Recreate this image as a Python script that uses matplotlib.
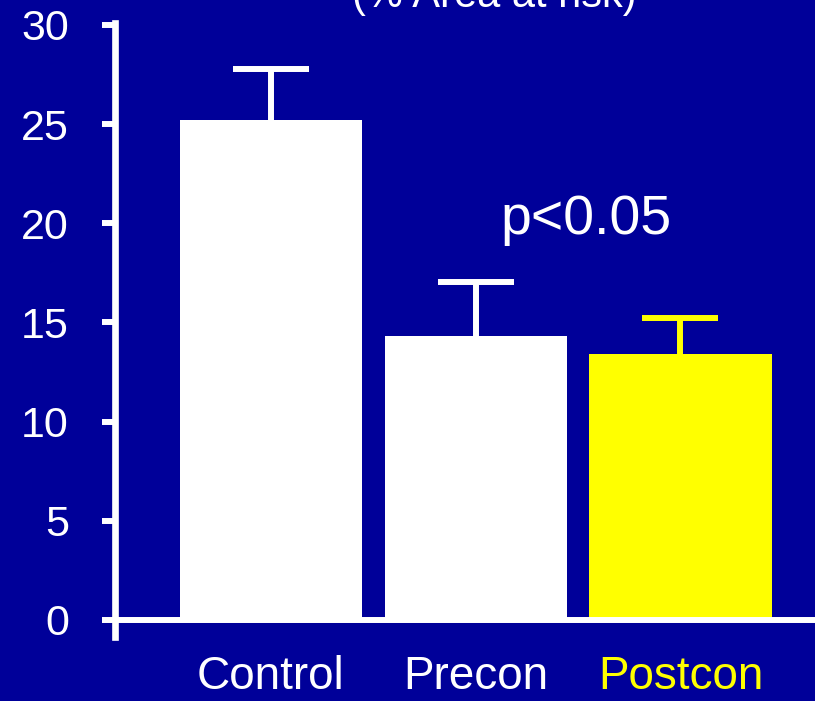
import matplotlib
matplotlib.use("Agg")
import matplotlib.pyplot as plt

categories = ["Control", "Precon", "Postcon"]
means = [25.2, 14.3, 13.4]
errors_up = [2.6, 2.75, 1.85]
bar_colors = ["white", "white", "yellow"]
label_colors = ["white", "white", "yellow"]
yticks = [0, 5, 10, 15, 20, 25, 30]
title_text = "(% Area at risk)"
annotation = "p<0.05"

BG = "#000099"
plt.rcParams["font.family"] = ["Liberation Sans", "DejaVu Sans"]

fig = plt.figure(figsize=(8.15, 7.01), dpi=100, facecolor=BG)
ax = fig.add_axes([115.5 / 815, 64 / 701, (815 - 115.5) / 815, 614 / 701])
ax.set_facecolor(BG)

x = list(range(len(categories)))
ax.bar(x, means, width=0.89, color=bar_colors, edgecolor="none", zorder=2)
for xi, m, e, c in zip(x, means, errors_up, bar_colors):
    cont = ax.errorbar([xi], [m], yerr=[[0], [e]], fmt="none", ecolor=c,
                       elinewidth=4.3, capsize=27.7, capthick=4.3, zorder=1)
    caps = cont[1]
    if len(caps) >= 2:
        caps[0].set_visible(False)

ax.set_xlim(-0.759, 2.657)
ax.set_ylim(-0.86, 30.1)

for s in ["top", "right"]:
    ax.spines[s].set_visible(False)
ax.spines["left"].set_color("white")
ax.spines["left"].set_linewidth(4.8)
ax.spines["bottom"].set_color("white")
ax.spines["bottom"].set_linewidth(4.3)
ax.spines["bottom"].set_position(("data", 0))

ax.set_yticks(yticks)
ax.set_yticklabels([str(t) for t in yticks])
ax.tick_params(axis="y", colors="white", length=9.5, width=4.3, pad=24,
               labelsize=31)
ax.set_xticks(x)
ax.set_xticklabels(categories)
ax.tick_params(axis="x", length=0, pad=25, labelsize=33)
for lbl, col in zip(ax.get_xticklabels(), label_colors):
    lbl.set_color(col)

ax.text(1.541, 19.46, annotation, color="white", fontsize=40,
        ha="center", va="baseline")
fig.text(494.5 / 815, 1 - 7.5 / 701, title_text, color="white", fontsize=30,
         ha="center", va="baseline")

fig.savefig("out.png", dpi=100, facecolor=BG)
